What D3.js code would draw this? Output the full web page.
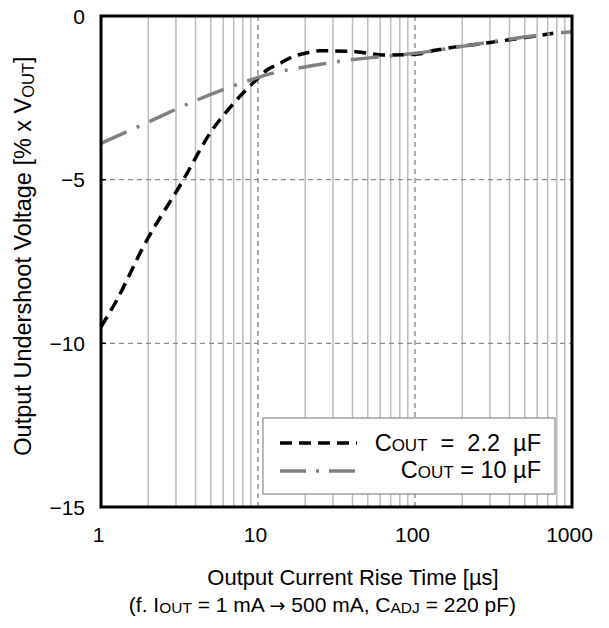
<!DOCTYPE html>
<html><head><meta charset="utf-8">
<script src="https://cdn.jsdelivr.net/npm/d3@7"></script>
<style>body{margin:0;background:#fff}text{font-family:Arial,"Liberation Sans",sans-serif;fill:#000}</style>
</head><body>
<svg id="c" width="609" height="628"></svg>
<script>
const xTicks = [1, 10, 100, 1000];
const yTicks = [0, -5, -10, -15];
const xA = [1, 1.26, 1.86, 3.35, 4.95, 7.3, 10, 11.4, 13.8, 16.7, 19.9, 24.8, 42, 63, 100, 137, 300, 760];
const yA = [-9.5, -8.68, -7.05, -5.0, -3.58, -2.57, -1.9, -1.65, -1.45, -1.24, -1.14, -1.06, -1.09, -1.19, -1.17, -1.04, -0.81, -0.53];
const xB = [1, 1.82, 4.07, 9.7, 11.9, 22, 42, 53, 69, 100, 224, 485, 1000];
const yB = [-3.89, -3.33, -2.57, -1.9, -1.77, -1.52, -1.32, -1.27, -1.22, -1.14, -0.89, -0.65, -0.48];

const svg = d3.select("#c");
const L = 101, R = 572, T = 16, B = 507;
const x = d3.scaleLog().domain([1, 1000]).range([L, R]);
const y = d3.scaleLinear().domain([-15, 0]).range([B, T]);

// minor grid
const minor = [];
for (let d = 1; d < 1000; d *= 10) for (let k = 2; k <= 9; k++) minor.push(d * k);
svg.append("g").selectAll("line").data(minor).join("line")
  .attr("x1", d => x(d)).attr("x2", d => x(d)).attr("y1", T).attr("y2", B)
  .attr("stroke", "#bcbcbc").attr("stroke-width", 1.5);
// major dashed grid
svg.append("g").selectAll("line").data([10, 100]).join("line")
  .attr("x1", d => x(d)).attr("x2", d => x(d)).attr("y1", T).attr("y2", B)
  .attr("stroke", "#8a8a8a").attr("stroke-width", 1.4).attr("stroke-dasharray", "5,4");
svg.append("g").selectAll("line").data([-5, -10]).join("line")
  .attr("x1", L).attr("x2", R).attr("y1", d => y(d)).attr("y2", d => y(d))
  .attr("stroke", "#8a8a8a").attr("stroke-width", 1.4).attr("stroke-dasharray", "5,4");
// inward ticks
svg.append("g").selectAll("line").data([-5, -10]).join("line")
  .attr("x1", L).attr("x2", L + 5).attr("y1", d => y(d)).attr("y2", d => y(d))
  .attr("stroke", "#000").attr("stroke-width", 1.5);

// curves
const line = (xs, ys) => d3.line().curve(d3.curveMonotoneX)(xs.map((v, i) => [x(v), y(ys[i])]));
svg.append("path").attr("d", line(xA, yA)).attr("fill", "none").attr("stroke", "#000")
  .attr("stroke-width", 3.5).attr("stroke-dasharray", "12,7");
svg.append("path").attr("d", line(xB, yB)).attr("fill", "none").attr("stroke", "#808080")
  .attr("stroke-width", 3.5).attr("stroke-dasharray", "28,11,3,11");

// frame
svg.append("rect").attr("x", L).attr("y", T).attr("width", R - L).attr("height", B - T)
  .attr("fill", "none").attr("stroke", "#000").attr("stroke-width", 3);

// tick labels
svg.append("g").selectAll("text").data(yTicks).join("text")
  .attr("x", 85).attr("y", d => y(d) + 7.5).attr("text-anchor", "end")
  .attr("font-size", 21).text(d => d === 0 ? "0" : "\u2212" + Math.abs(d));
svg.append("g").selectAll("text").data(xTicks).join("text")
  .attr("x", d => x(d) - 2.5).attr("y", 542).attr("text-anchor", "middle")
  .attr("font-size", 21).text(d => d);

// axis titles
const yt = svg.append("text").attr("transform", "translate(31,256) rotate(-90)")
  .attr("text-anchor", "middle").attr("font-size", 23.5);
yt.append("tspan").text("Output Undershoot Voltage [% x V");
yt.append("tspan").attr("font-size", 16.5).attr("dy", 3).text("OUT");
yt.append("tspan").attr("dy", -3).text("]");

svg.append("text").attr("x", 353).attr("y", 585).attr("text-anchor", "middle")
  .attr("font-size", 22).text("Output Current Rise Time [\u00b5s]");
const n = svg.append("text").attr("x", 322.5).attr("y", 612).attr("text-anchor", "middle").attr("font-size", 21);
n.append("tspan").text("(f. I");
n.append("tspan").attr("font-size", 15.5).attr("dy", 1).text("OUT");
n.append("tspan").attr("dy", -1).text(" = 1 mA ");
n.append("tspan").style("font-family", "'DejaVu Sans'").attr("font-size", 19).text("\u2192");
n.append("tspan").text(" 500 mA, C");
n.append("tspan").attr("font-size", 15.5).attr("dy", 1).text("ADJ");
n.append("tspan").attr("dy", -1).text(" = 220 pF)");

// legend
const lg = svg.append("g");
lg.append("rect").attr("x", 263).attr("y", 418).attr("width", 292).attr("height", 76)
  .attr("fill", "#fff").attr("stroke", "#888").attr("stroke-width", 1.2);
lg.append("line").attr("x1", 280).attr("x2", 357).attr("y1", 443).attr("y2", 443)
  .attr("stroke", "#000").attr("stroke-width", 3.5).attr("stroke-dasharray", "12,7");
lg.append("line").attr("x1", 280).attr("x2", 357).attr("y1", 471).attr("y2", 471)
  .attr("stroke", "#808080").attr("stroke-width", 3.5).attr("stroke-dasharray", "26,10,3,10");
const t1 = lg.append("text").attr("x", 541).attr("y", 450.5).attr("text-anchor", "end").attr("font-size", 23.5).style("white-space", "pre");
t1.append("tspan").text("C");
t1.append("tspan").attr("font-size", 17).text("OUT");
t1.append("tspan").text("  =  2.2  \u00b5F");
const t2 = lg.append("text").attr("x", 541).attr("y", 478).attr("text-anchor", "end").attr("font-size", 23.5).style("white-space", "pre");
t2.append("tspan").text("C");
t2.append("tspan").attr("font-size", 17).text("OUT");
t2.append("tspan").text(" = 10 \u00b5F");
</script>
</body></html>
